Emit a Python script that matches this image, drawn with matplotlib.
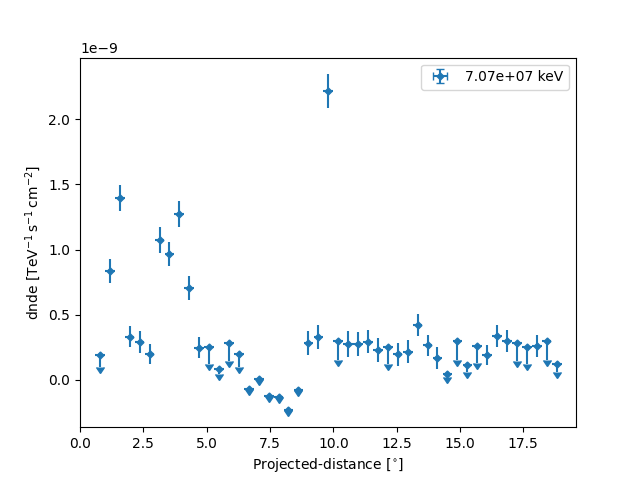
import numpy as np
import matplotlib
matplotlib.use('Agg')
import matplotlib.pyplot as plt

# projected distance of each bin centre [deg]
distance = [0.79, 1.18, 1.57, 1.96, 2.35, 2.75, 3.14, 3.53, 3.92, 4.31,
            4.70, 5.10, 5.49, 5.88, 6.27, 6.66, 7.06, 7.45, 7.84, 8.23,
            8.62, 9.02, 9.41, 9.80, 10.19, 10.58, 10.98, 11.37, 11.76, 12.15,
            12.54, 12.94, 13.33, 13.72, 14.11, 14.50, 14.90, 15.29, 15.68, 16.07,
            16.46, 16.86, 17.25, 17.64, 18.03, 18.42, 18.82]
distance_err = 0.19

# dnde (1e-9 TeV-1 s-1 cm-2); for upper-limit bins this is the UL value
dnde = [0.19, 0.835, 1.395, 0.33, 0.29, 0.20, 1.073, 0.966, 1.272, 0.705,
        0.245, 0.25, 0.085, 0.283, 0.20, -0.072, 0.008, -0.125, -0.133, -0.235,
        -0.082, 0.283, 0.33, 2.215, 0.30, 0.276, 0.276, 0.292, 0.23, 0.25,
        0.197, 0.215, 0.422, 0.266, 0.169, 0.046, 0.30, 0.113, 0.261, 0.192,
        0.338, 0.299, 0.285, 0.25, 0.261, 0.30, 0.12]
dnde_err = [0, 0.09, 0.10, 0.08, 0.082, 0.075, 0.098, 0.095, 0.102, 0.092,
            0.08, 0, 0, 0, 0, 0, 0, 0, 0, 0,
            0, 0.095, 0.09, 0.13, 0, 0.098, 0.09, 0.09, 0.09, 0,
            0.088, 0.087, 0.087, 0.08, 0.083, 0, 0, 0, 0, 0.075,
            0.083, 0.085, 0, 0, 0.083, 0, 0]
is_ul = [1, 0, 0, 0, 0, 0, 0, 0, 0, 0,
         0, 1, 1, 1, 1, 1, 1, 1, 1, 1,
         1, 0, 0, 0, 1, 0, 0, 0, 0, 1,
         0, 0, 0, 0, 0, 1, 1, 1, 1, 0,
         0, 0, 1, 1, 0, 1, 1]

x = np.array(distance)
y = np.array(dnde) * 1e-9
ul = np.array(is_ul, dtype=bool)
errn = np.array(dnde_err) * 1e-9
errp = errn.copy()
# upper limits: arrow down by half the UL value, no upper error
errn[ul] = np.clip(0.5 * y[ul], 0, np.inf)
errp[ul] = 0

fig, ax = plt.subplots(figsize=(6.4, 4.8), dpi=100)
ax.errorbar(x, y, xerr=distance_err, yerr=[errn, errp], uplims=ul,
            marker='D', markersize=3.5, ls='None', color='tab:blue',
            label='7.07e+07 keV')
ax.set_xlim(0, 19.58)
ax.set_xlabel(r'Projected-distance [$\mathrm{{}^{\circ}}$]')
ax.set_ylabel(r'dnde [$\mathrm{TeV^{-1}\,s^{-1}\,cm^{-2}}$]')
ax.legend(loc='upper right')

plt.savefig('out.png')
